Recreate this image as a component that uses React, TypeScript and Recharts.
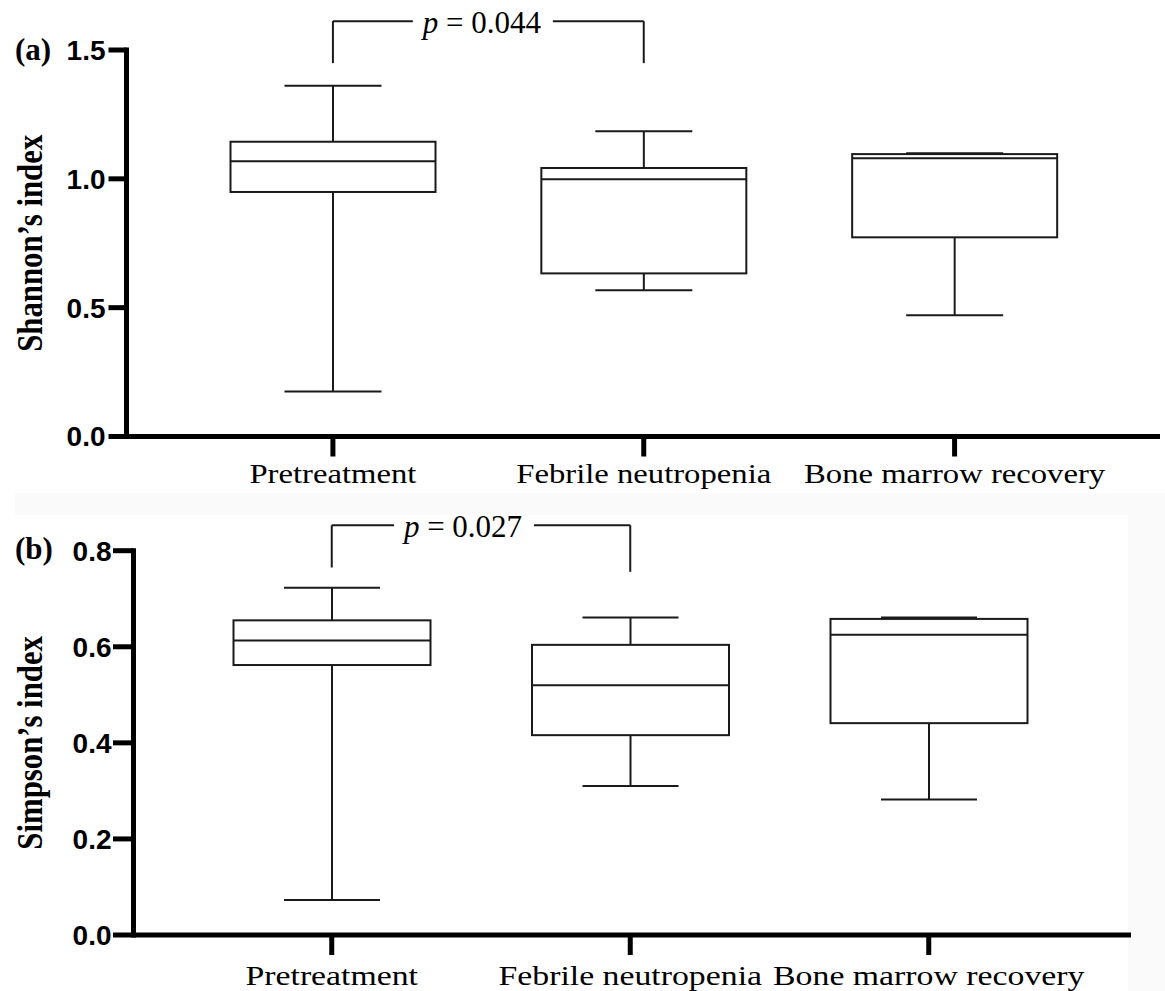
import React from 'react';
import { ComposedChart, Bar, XAxis, YAxis, ReferenceLine } from 'recharts';

// ---------- data ----------
const categories = ['Pretreatment', 'Febrile neutropenia', 'Bone marrow recovery'];

const shannonMin = [0.175, 0.568, 0.471];
const shannonQ1 = [0.949, 0.633, 0.773];
const shannonMedian = [1.068, 0.998, 1.08];
const shannonQ3 = [1.144, 1.042, 1.096];
const shannonMax = [1.361, 1.185, 1.099];

const simpsonMin = [0.073, 0.31, 0.282];
const simpsonQ1 = [0.562, 0.416, 0.441];
const simpsonMedian = [0.613, 0.52, 0.625];
const simpsonQ3 = [0.655, 0.604, 0.658];
const simpsonMax = [0.723, 0.661, 0.661];

const shannonYTicks = [0, 0.5, 1.0, 1.5];
const simpsonYTicks = [0, 0.2, 0.4, 0.6, 0.8];

// bracket: [top, left end, right end] in axis units
const shannonBracketY = [1.612, 1.449, 1.449];
const simpsonBracketY = [0.853, 0.765, 0.756];
const shannonPValue = '0.044';
const simpsonPValue = '0.027';

const shannonData = categories.map((name, i) => ({
  name,
  min: shannonMin[i],
  q1: shannonQ1[i],
  median: shannonMedian[i],
  q3: shannonQ3[i],
  max: shannonMax[i],
}));

const simpsonData = categories.map((name, i) => ({
  name,
  min: simpsonMin[i],
  q1: simpsonQ1[i],
  median: simpsonMedian[i],
  q3: simpsonQ3[i],
  max: simpsonMax[i],
}));

// ---------- styles ----------
const INK = '#1a1a1a';
const SERIF = '"Liberation Serif", "Times New Roman", serif';
const SANS = '"Liberation Sans", Arial, sans-serif';

const topCfg = {
  top: 0,
  height: 500,
  marginTop: 50,
  marginRight: 5,
  yAxisWidth: 126.5,
  xAxisHeight: 63.5,
  padLeft: 51,
  padRight: 50,
  boxWidth: 205,
  capWidth: 97,
  yTickSize: 18,
  yTickMargin: 3,
  xTickSize: 20,
  xLabelDy: 26.8,
  xLabelScale: 1.18,
  titleX: 42,
  letterY: 60,
  pTextOffset: -6.5,
};

const bottomCfg = {
  top: 500,
  height: 491,
  marginTop: 50.7,
  marginRight: 34,
  yAxisWidth: 133.5,
  xAxisHeight: 56,
  padLeft: 49,
  padRight: 53,
  boxWidth: 197,
  capWidth: 96,
  yTickSize: 20.5,
  yTickMargin: 1.5,
  xTickSize: 20,
  xLabelDy: 30,
  xLabelScale: 1.22,
  titleX: 42,
  letterY: 59,
  pTextOffset: -18,
};

// ---------- shapes ----------
function BoxShape(props: any) {
  const { x, y, width, height, payload, capWidth } = props;
  if (x == null || y == null || !payload) return null;
  const top = Math.min(y, y + height);
  const bottom = Math.max(y, y + height);
  const span = payload.max - payload.min || 1;
  const py = (v: number) => top + ((payload.max - v) / span) * (bottom - top);
  const cx = x + width / 2;
  const sw = 2;
  const yMax = py(payload.max);
  const yQ3 = py(payload.q3);
  const yMed = py(payload.median);
  const yQ1 = py(payload.q1);
  const yMin = py(payload.min);
  return (
    <g>
      <line x1={cx} x2={cx} y1={yMax} y2={yQ3} stroke={INK} strokeWidth={sw} />
      <line x1={cx} x2={cx} y1={yQ1} y2={yMin} stroke={INK} strokeWidth={sw} />
      <line x1={cx - capWidth / 2} x2={cx + capWidth / 2} y1={yMax} y2={yMax} stroke={INK} strokeWidth={sw} />
      <line x1={cx - capWidth / 2} x2={cx + capWidth / 2} y1={yMin} y2={yMin} stroke={INK} strokeWidth={sw} />
      <rect x={x} y={yQ3} width={width} height={yQ1 - yQ3} fill="#fff" stroke={INK} strokeWidth={sw} />
      <line x1={x} x2={x + width} y1={yMed} y2={yMed} stroke={INK} strokeWidth={sw} />
    </g>
  );
}

function XTick(props: any) {
  const { x, y, payload, labelDy, labelScale } = props;
  return (
    <g transform={`translate(${x},${y + labelDy})`}>
      <text
        x={0}
        y={0}
        transform={`scale(${labelScale},1)`}
        textAnchor="middle"
        fill="#000"
        fontSize={27.7}
        fontFamily={SERIF}
      >
        {payload.value}
      </text>
    </g>
  );
}

function AxisTitle(props: any) {
  const { tx, cy, text, letter, letterY } = props;
  return (
    <g>
      <text
        x={0}
        y={0}
        transform={`translate(${tx},${cy}) rotate(-90) scale(1,1.15)`}
        textAnchor="middle"
        fill="#000"
        fontSize={30.8}
        fontWeight={700}
        fontFamily={SERIF}
      >
        {text}
      </text>
      <text x={15} y={letterY} fill="#000" fontSize={31} fontWeight={700} fontFamily={SERIF}>
        {letter}
      </text>
    </g>
  );
}

function makeBracketShape(pValue: string, offset: number) {
  return (props: any) => {
    const { x1, y1, x2 } = props;
    if (x1 == null) return null;
    const mid = (x1 + x2) / 2 + offset;
    const gap = 69;
    return (
      <g>
        <line x1={x1} x2={mid - gap} y1={y1} y2={y1} stroke={INK} strokeWidth={2} />
        <line x1={mid + gap + 2} x2={x2} y1={y1} y2={y1} stroke={INK} strokeWidth={2} />
        <text x={mid} y={y1 + 11.5} textAnchor="middle" fill="#000" fontSize={31} fontFamily={SERIF}>
          <tspan fontStyle="italic">p</tspan>
          <tspan> = {pValue}</tspan>
        </text>
      </g>
    );
  };
}

function Panel(p: any) {
  const { cfg, data, ticks, domain, title, letter, bracketY, pValue } = p;
  const plotH = cfg.height - cfg.marginTop - cfg.xAxisHeight;
  const cy = cfg.marginTop + plotH / 2;
  return (
    <div style={{ position: 'absolute', left: 0, top: cfg.top, width: 1165, height: cfg.height }}>
      <ComposedChart
        width={1165}
        height={cfg.height}
        data={data}
        margin={{ top: cfg.marginTop, right: cfg.marginRight, bottom: 0, left: 0 }}
      >
        <XAxis
          dataKey="name"
          type="category"
          interval={0}
          padding={{ left: cfg.padLeft, right: cfg.padRight }}
          height={cfg.xAxisHeight}
          axisLine={{ stroke: '#000', strokeWidth: 5 }}
          tickLine={{ stroke: '#000', strokeWidth: 5 }}
          tickSize={cfg.xTickSize}
          tickMargin={0}
          tick={<XTick labelDy={cfg.xLabelDy} labelScale={cfg.xLabelScale} />}
        />
        <YAxis
          type="number"
          domain={domain}
          ticks={ticks}
          interval={0}
          width={cfg.yAxisWidth}
          tickFormatter={(v: number) => Number(v).toFixed(1)}
          axisLine={{ stroke: '#000', strokeWidth: 5, strokeLinecap: 'square' }}
          tickLine={{ stroke: '#000', strokeWidth: 5 }}
          tickSize={cfg.yTickSize}
          tickMargin={cfg.yTickMargin}
          tick={{ fill: '#000', fontSize: 28, fontWeight: 700, fontFamily: SANS }}
          label={<AxisTitle tx={cfg.titleX} cy={cy} text={title} letter={letter} letterY={cfg.letterY} />}
        />
        <Bar
          dataKey={(d: any) => [d.min, d.max]}
          barSize={cfg.boxWidth}
          isAnimationActive={false}
          shape={(props: any) => <BoxShape {...props} capWidth={cfg.capWidth} />}
        />
        <ReferenceLine
          ifOverflow="visible"
          stroke={INK}
          strokeWidth={2}
          segment={[
            { x: categories[0], y: bracketY[0] },
            { x: categories[0], y: bracketY[1] },
          ]}
        />
        <ReferenceLine
          ifOverflow="visible"
          stroke={INK}
          strokeWidth={2}
          segment={[
            { x: categories[1], y: bracketY[0] },
            { x: categories[1], y: bracketY[2] },
          ]}
        />
        <ReferenceLine
          ifOverflow="visible"
          stroke={INK}
          strokeWidth={2}
          segment={[
            { x: categories[0], y: bracketY[0] },
            { x: categories[1], y: bracketY[0] },
          ]}
          shape={makeBracketShape(pValue, cfg.pTextOffset)}
        />
      </ComposedChart>
    </div>
  );
}

export default function App() {
  return (
    <div
      style={{
        position: 'absolute',
        left: 0,
        top: 0,
        width: 1165,
        height: 991,
        background: '#fff',
        overflow: 'hidden',
      }}
    >
      <div style={{ position: 'absolute', left: 15, top: 493, width: 1150, height: 22, background: '#fafafa' }} />
      <div style={{ position: 'absolute', left: 1128, top: 493, width: 37, height: 498, background: '#fafafa' }} />
      <Panel
        cfg={topCfg}
        data={shannonData}
        ticks={shannonYTicks}
        domain={[0, 1.5]}
        title="Shannon’s index"
        letter="(a)"
        bracketY={shannonBracketY}
        pValue={shannonPValue}
      />
      <Panel
        cfg={bottomCfg}
        data={simpsonData}
        ticks={simpsonYTicks}
        domain={[0, 0.8]}
        title="Simpson’s index"
        letter="(b)"
        bracketY={simpsonBracketY}
        pValue={simpsonPValue}
      />
    </div>
  );
}
